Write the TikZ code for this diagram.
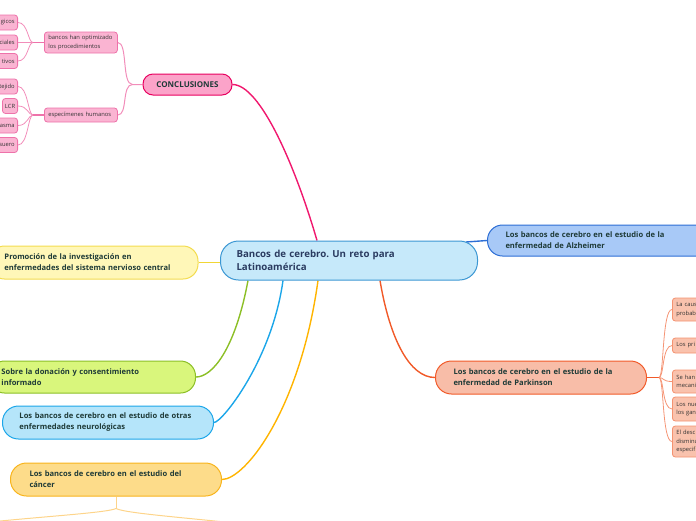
\documentclass[tikz,border=0pt]{standalone}
\usepackage{fontspec}
\setmainfont{Open Sans}
\usetikzlibrary{calc,backgrounds}
\frenchspacing
\definecolor{cenFill}{HTML}{C6E9FA}
\definecolor{cenDraw}{HTML}{3B97D3}
\definecolor{cenTxt}{HTML}{2A3B60}
\definecolor{txt}{HTML}{1E3A37}
\definecolor{leafTxt}{HTML}{333333}
\definecolor{conFill}{HTML}{FBA3C9}
\definecolor{conDraw}{HTML}{E8005F}
\definecolor{conLine}{HTML}{F0186E}
\definecolor{pkFill}{HTML}{FAB4D2}
\definecolor{pkDraw}{HTML}{EE72AA}
\definecolor{pkLine}{HTML}{F28DBA}
\definecolor{alzFill}{HTML}{A8C9F7}
\definecolor{alzDraw}{HTML}{2D6ED5}
\definecolor{parFill}{HTML}{F8BDA8}
\definecolor{parDraw}{HTML}{F15A29}
\definecolor{parLeafFill}{HTML}{F9C2AD}
\definecolor{parLeafDraw}{HTML}{F49270}
\definecolor{parLine}{HTML}{F59474}
\definecolor{proFill}{HTML}{FFF7B8}
\definecolor{proDraw}{HTML}{F3DC50}
\definecolor{proLine}{HTML}{F1D635}
\definecolor{sobFill}{HTML}{D9F67C}
\definecolor{sobDraw}{HTML}{8CBF26}
\definecolor{otrFill}{HTML}{B5E5FA}
\definecolor{otrDraw}{HTML}{1BA6E9}
\definecolor{canFill}{HTML}{FDDC8A}
\definecolor{canDraw}{HTML}{F8B41C}
\definecolor{canLine}{HTML}{FFB400}
\definecolor{canSub}{HTML}{FDD48A}
\tikzset{
  mm/.style={draw, align=left, inner ysep=0pt, line width=1pt},
  cenbox/.style={mm, fill=cenFill, draw=cenDraw, rounded corners=18pt, minimum height=39pt,
    inner xsep=16pt, text width=225pt, anchor=west, text=cenTxt,
    font=\bfseries\fontsize{9.7}{13}\selectfont},
  secbox/.style={mm, rounded corners=15pt, text=txt, font=\bfseries\fontsize{7.6}{11}\selectfont},
  conbox/.style={mm, fill=conFill, draw=conDraw, rounded corners=10pt, minimum width=89pt,
    minimum height=21pt, align=center, text=txt, font=\bfseries\fontsize{8}{10}\selectfont},
  subbox/.style={mm, fill=pkFill, draw=pkDraw, rounded corners=3pt, line width=0.8pt,
    text=leafTxt, font=\fontsize{5.8}{8.5}\selectfont},
  leafL/.style={subbox, anchor=east, align=right, minimum height=15pt,
    inner xsep=3pt, text width=54pt},
  leafLs/.style={subbox, anchor=east, minimum height=15pt, inner xsep=2.5pt},
  leafR/.style={mm, fill=parLeafFill, draw=parLeafDraw, rounded corners=3pt, line width=0.8pt,
    text=leafTxt, font=\fontsize{5.8}{8.5}\selectfont, anchor=west, minimum width=60pt,
    inner xsep=4pt, text width=52pt},
  mainline/.style={line width=1.4pt},
  subline/.style={line width=0.8pt}
}
\begin{document}
\begin{tikzpicture}[x=1pt,y=-1pt]
\useasboundingbox (0,0) rectangle (696,520);

% central
\node[cenbox] (cen) at (220,260.5) {Bancos de cerebro. Un reto para\\Latinoamérica};

% conclusiones branch
\node[conbox] (con) at (187.5,84.5) {CONCLUSIONES};
\node[subbox, anchor=west, minimum width=73pt, minimum height=21pt, inner xsep=4pt, text width=65pt]
  (ban) at (44,42.5) {bancos han optimizado\\los procedimientos};
\node[subbox, anchor=west, minimum width=73pt, minimum height=14pt, inner xsep=4pt, text width=65pt]
  (esp) at (44,115) {especímenes humanos};
\node[leafL] (l1) at (18,22.5) {gicos};
\node[leafL] (l2) at (18,42.5) {ciales};
\node[leafL] (l3) at (18,61) {tivos};
\node[leafL] (l4) at (18,86.5) {tejido};
\node[leafLs] (l5) at (18,106) {LCR};
\node[leafL] (l6) at (18,125.5) {asma};
\node[leafL] (l7) at (18,145) {suero};

% right
\node[secbox, fill=alzFill, draw=alzDraw, anchor=west, minimum height=31pt, inner xsep=18pt,
  text width=200pt] (alz) at (487,240.5)
  {Los bancos de cerebro en el estudio de la\\enfermedad de Alzheimer};
\node[secbox, fill=parFill, draw=parDraw, anchor=west, minimum height=33pt, rounded corners=16pt,
  inner xsep=18pt, text width=175pt] (par) at (435,377.5)
  {Los bancos de cerebro en el estudio de la\\enfermedad de Parkinson};
\node[leafR, minimum height=23pt] (r1) at (672,309.5) {La caus\\probab};
\node[leafR, minimum height=15pt] (r2) at (672,345.5) {Los pri};
\node[leafR, minimum height=23pt] (r3) at (672,381.5) {Se han\\mecani};
\node[leafR, minimum height=24pt] (r4) at (672,409) {Los nue\\los gan};
\node[leafR, minimum height=31pt] (r5) at (672,441.5) {El desc\\disminu\\especif};

% left
\node[secbox, fill=proFill, draw=proDraw, anchor=east, minimum height=33pt, inner xsep=15pt,
  text width=178.5pt] (pro) at (198.5,262.5)
  {Promoción de la investigación en\\enfermedades del sistema nervioso central};
\node[secbox, fill=sobFill, draw=sobDraw, anchor=east, minimum height=32pt, inner xsep=12pt,
  text width=182pt] (sob) at (196,377)
  {Sobre la donación y consentimiento\\informado};
\node[secbox, fill=otrFill, draw=otrDraw, anchor=west, minimum height=33pt, rounded corners=16pt,
  inner xsep=17pt, text width=177pt] (otr) at (2,422.5)
  {Los bancos de cerebro en el estudio de otras\\enfermedades neurológicas};
\node[secbox, fill=canFill, draw=canDraw, anchor=west, minimum height=33pt, rounded corners=16pt,
  inner xsep=19pt, text width=173pt] (can) at (10,479.5)
  {Los bancos de cerebro en el estudio del\\cáncer};

\coordinate (cl) at (-10,522);
\coordinate (cr) at (225,522);

\begin{pgfonlayer}{background}
  % main branches
  \draw[mainline, conLine] ($(cen.north west)+(97,0)$) .. controls (295,165) and (260,84.5) .. (con.east);
  \draw[mainline, proLine] (pro.east) -- (cen.west |- pro.east);
  \draw[mainline, sobDraw] ($(cen.south west)+(28,0)$) .. controls (235,350) and (212,377) .. (sob.east);
  \draw[mainline, otrDraw] ($(cen.south west)+(63,0)$) .. controls (272,360) and (222,422.5) .. (otr.east);
  \draw[mainline, canLine] ($(cen.south west)+(98,0)$) .. controls (300,410) and (245,479.5) .. (can.east);
  \draw[mainline, parDraw] ($(cen.south west)+(160,0)$) .. controls (390,340) and (410,377.5) .. (par.west);
  \draw[mainline, alzDraw] ($(cen.north east)+(-12,1.5)$) -- (alz.west);
  % conclusiones sub
  \draw[mainline, pkLine, line width=1pt] (con.west) -- ++(-10,0) coordinate (cj)
     .. controls ++(-11,0) and (128,42.5) .. (ban.east);
  \draw[pkLine, line width=1pt] (cj) .. controls ++(-11,0) and (128,115) .. (esp.east);
  \draw[pkDraw, line width=1.2pt] (ban.west) -- ++(-11,0) coordinate (bj);
  \foreach \n in {l1,l2,l3}
    \draw[subline, pkLine] (bj) .. controls ++(-5,0) and ($(\n.east)+(10,0)$) .. (\n.east);
  \draw[pkDraw, line width=1.2pt] (esp.west) -- ++(-11,0) coordinate (ej);
  \foreach \n in {l4,l5,l6,l7}
    \draw[subline, pkLine] (ej) .. controls ++(-5,0) and ($(\n.east)+(10,0)$) .. (\n.east);
  % parkinson sub
  \draw[parDraw, line width=1.2pt] (par.east) -- ++(12,0) coordinate (pj);
  \foreach \n in {r1,r2,r3,r4,r5}
    \draw[subline, parLine] (pj) .. controls ++(5,0) and ($(\n.west)+(-10,0)$) .. (\n.west);
  % cancer sub
  \draw[subline, canSub, line width=1pt] (can.south) -- ++(0,12) coordinate (kj);
  \draw[subline, canSub, line width=1pt] (kj) .. controls ++(-8,4) and ($(cl)+(60,-6)$) .. (cl);
  \draw[subline, canSub, line width=1pt] (kj) .. controls ++(8,4) and ($(cr)+(-60,-6)$) .. (cr);
\end{pgfonlayer}
\end{tikzpicture}
\end{document}
